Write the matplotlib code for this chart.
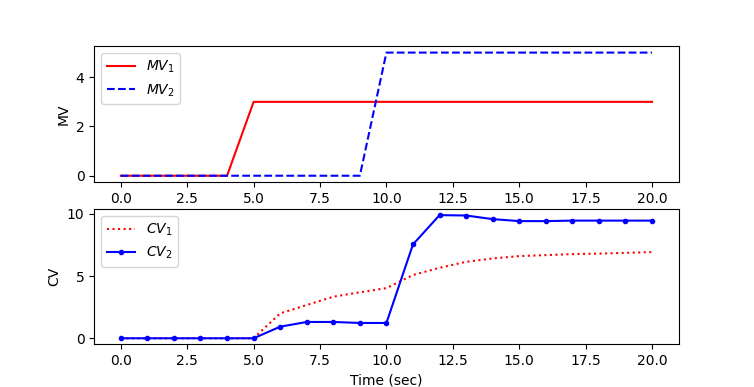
import matplotlib
matplotlib.use('Agg')
import matplotlib.pyplot as plt

# time grid (sec)
t = list(range(21))

# manipulated variables
mv1 = [0, 0, 0, 0, 0, 3, 3, 3, 3, 3, 3, 3, 3, 3, 3, 3, 3, 3, 3, 3, 3]
mv2 = [0, 0, 0, 0, 0, 0, 0, 0, 0, 0, 5, 5, 5, 5, 5, 5, 5, 5, 5, 5, 5]

# controlled variables
cv1 = [0, 0, 0, 0, 0, 0, 2.0, 2.67, 3.34, 3.69, 4.03, 5.08, 5.66, 6.14, 6.41,
       6.6, 6.68, 6.76, 6.8, 6.86, 6.92]
cv2 = [0, 0, 0, 0, 0, 0, 0.93, 1.31, 1.31, 1.23, 1.23, 7.54, 9.89, 9.86, 9.57,
       9.41, 9.41, 9.45, 9.45, 9.45, 9.45]

fig = plt.figure(figsize=(7.54, 3.87), dpi=100)

plt.subplot(2, 1, 1)
plt.plot(t, mv1, 'r-', label='$MV_1$')
plt.plot(t, mv2, 'b--', label='$MV_2$')
plt.ylabel('MV')
plt.legend(loc='upper left')

plt.subplot(2, 1, 2)
plt.plot(t, cv1, 'r:', label='$CV_1$')
plt.plot(t, cv2, 'b.-', label='$CV_2$')
plt.ylabel('CV')
plt.xlabel('Time (sec)')
plt.legend(loc='upper left')

plt.savefig('out.png', dpi=100)
